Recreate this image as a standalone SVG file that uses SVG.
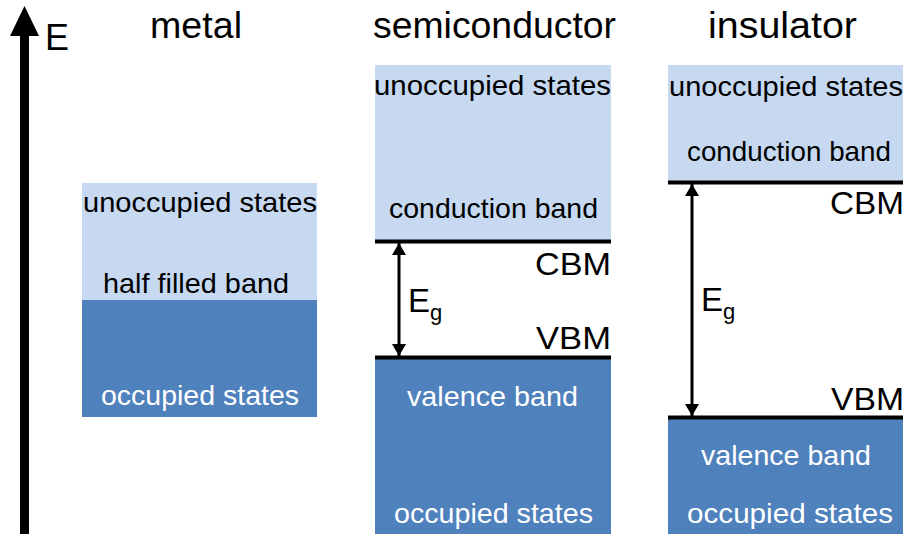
<svg xmlns="http://www.w3.org/2000/svg" width="905" height="534" viewBox="0 0 905 534">
  <defs>
    <style>
      text { font-family: "Liberation Sans", Arial, sans-serif; fill: #000; }
      .title { font-size: 36px; }
      .band { font-size: 28px; }
      .edge { font-size: 31px; }
      .inv { fill: #fff; }
      .empty { fill: #c6d9f1; }
      .full { fill: #4f81bd; }
      .level { stroke: #000; stroke-width: 4; }
      .gap { stroke: #000; stroke-width: 3; fill: none; }
    </style>
    <marker id="tip" viewBox="0 0 12 14" refX="12" refY="7" markerWidth="12" markerHeight="14" markerUnits="userSpaceOnUse" orient="auto-start-reverse">
      <path d="M0,0 L12,7 L0,14 Z" fill="#000"/>
    </marker>
  </defs>

  <!-- energy axis -->
  <g id="energy-axis">
    <rect x="20" y="33" width="9" height="501" fill="#000"/>
    <path d="M24.5,6 L39,36 L10,36 Z" fill="#000"/>
    <text x="45" y="50" font-size="37" textLength="24" lengthAdjust="spacingAndGlyphs">E</text>
  </g>

  <!-- metal -->
  <g id="metal">
    <text class="title" x="150" y="38" textLength="92" lengthAdjust="spacingAndGlyphs">metal</text>
    <rect class="empty" x="82" y="183" width="235" height="117"/>
    <rect class="full" x="82" y="300" width="235" height="117"/>
    <text class="band" x="83" y="212" textLength="234" lengthAdjust="spacingAndGlyphs">unoccupied states</text>
    <text class="band" x="103" y="293" textLength="186" lengthAdjust="spacingAndGlyphs">half filled band</text>
    <text class="band inv" x="101" y="405" textLength="198" lengthAdjust="spacingAndGlyphs">occupied states</text>
  </g>

  <!-- semiconductor -->
  <g id="semiconductor">
    <text class="title" x="373" y="38" textLength="243" lengthAdjust="spacingAndGlyphs">semiconductor</text>
    <rect class="empty" x="375" y="65" width="236" height="176"/>
    <rect class="full" x="375" y="358" width="236" height="176"/>
    <line class="level" x1="375" y1="241.5" x2="611" y2="241.5"/>
    <line class="level" x1="375" y1="357.5" x2="611" y2="357.5"/>
    <text class="band" x="374" y="95" textLength="237" lengthAdjust="spacingAndGlyphs">unoccupied states</text>
    <text class="band" x="389" y="218" textLength="209" lengthAdjust="spacingAndGlyphs">conduction band</text>
    <text class="edge" x="535" y="275" textLength="76" lengthAdjust="spacingAndGlyphs">CBM</text>
    <text x="408" y="312" font-size="33">E<tspan font-size="22" dy="8">g</tspan></text>
    <text class="edge" x="536" y="349" textLength="75" lengthAdjust="spacingAndGlyphs">VBM</text>
    <text class="band inv" x="407" y="406" textLength="171" lengthAdjust="spacingAndGlyphs">valence band</text>
    <text class="band inv" x="394" y="523" textLength="199" lengthAdjust="spacingAndGlyphs">occupied states</text>
  </g>

  <!-- insulator -->
  <g id="insulator">
    <text class="title" x="708" y="38" textLength="149" lengthAdjust="spacingAndGlyphs">insulator</text>
    <rect class="empty" x="668" y="65" width="235" height="117"/>
    <rect class="full" x="668" y="418" width="235" height="116"/>
    <line class="level" x1="668" y1="182.5" x2="903" y2="182.5"/>
    <line class="level" x1="668" y1="417.5" x2="903" y2="417.5"/>
    <text class="band" x="669" y="96" textLength="234" lengthAdjust="spacingAndGlyphs">unoccupied states</text>
    <text class="band" x="687" y="161" textLength="204" lengthAdjust="spacingAndGlyphs">conduction band</text>
    <text class="edge" x="830" y="214" textLength="74" lengthAdjust="spacingAndGlyphs">CBM</text>
    <text x="701" y="311" font-size="33">E<tspan font-size="22" dy="8">g</tspan></text>
    <text class="edge" x="831" y="410" textLength="73" lengthAdjust="spacingAndGlyphs">VBM</text>
    <text class="band inv" x="701" y="465" textLength="170" lengthAdjust="spacingAndGlyphs">valence band</text>
    <text class="band inv" x="687" y="523" textLength="206" lengthAdjust="spacingAndGlyphs">occupied states</text>
  </g>

  <!-- band gap arrows -->
  <g id="connectors">
    <line class="gap" x1="399" y1="243" x2="399" y2="356" marker-start="url(#tip)" marker-end="url(#tip)"/>
    <line class="gap" x1="692" y1="184" x2="692" y2="416" marker-start="url(#tip)" marker-end="url(#tip)"/>
  </g>
</svg>
